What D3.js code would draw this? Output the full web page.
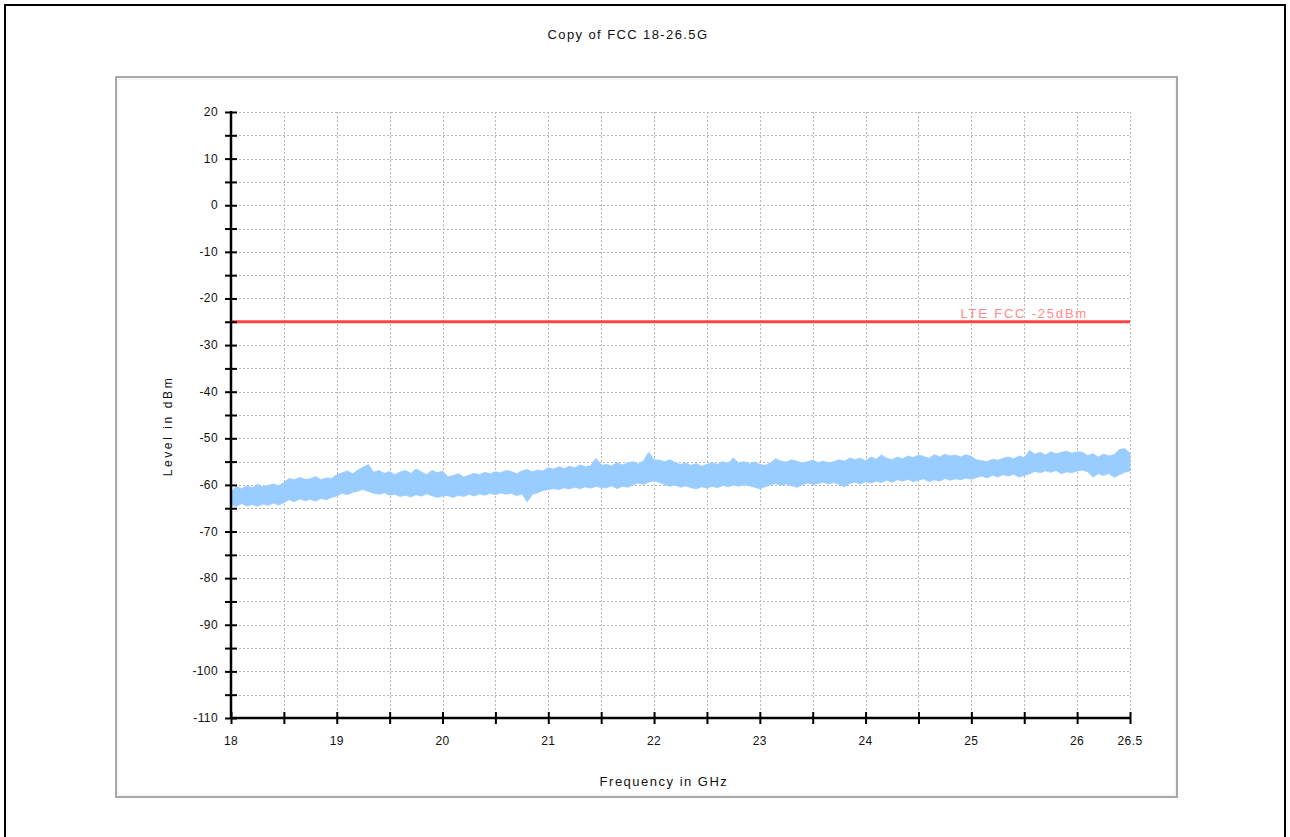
<!DOCTYPE html>
<html>
<head>
<meta charset="utf-8">
<script src="https://cdn.jsdelivr.net/npm/d3@7"></script>
<style>
  html, body { margin: 0; padding: 0; background: #fff; }
  svg { display: block; }
  text { font-family: "Liberation Sans", Arial, sans-serif; fill: #111; }
</style>
</head>
<body>
<svg id="chart" width="1290" height="837"></svg>
<script>
// ---- data ----
const chartTitle = "Copy of FCC 18-26.5G";
const xAxisTitle = "Frequency in GHz";
const yAxisTitle = "Level in dBm";
const limitLabel = "LTE FCC -25dBm";
const limitValue = -25;

const freqStart = 18.0;      // GHz, first bin
const freqStep = 0.05;       // GHz per bin
const xTickValues = [18, 18.5, 19, 19.5, 20, 20.5, 21, 21.5, 22, 22.5, 23, 23.5, 24, 24.5, 25, 25.5, 26, 26.5];
const xTickLabels = ["18", "", "19", "", "20", "", "21", "", "22", "", "23", "", "24", "", "25", "", "26", "26.5"];
const yTickValues = [20, 10, 0, -10, -20, -30, -40, -50, -60, -70, -80, -90, -100, -110];
const yMinorValues = [15, 5, -5, -15, -25, -35, -45, -55, -65, -75, -85, -95, -105];

// Trace envelope (max and min level per 0.05 GHz bin), dBm
const traceMax = [
  -61.5, -60.3, -60.8, -60.2, -60.6, -59.9, -60.4, -60.1, -59.8, -60.2, -59.5,
  -58.6, -58.9, -58.4, -58.8, -58.7, -58.2, -58.9, -58.5, -58.6, -57.8,
  -57.4, -57.0, -57.6, -56.8, -56.2, -55.6, -57.3, -56.9, -57.5, -57.1,
  -57.8, -57.2, -56.9, -57.5, -56.6, -57.2, -57.8, -56.9, -57.4, -57.0,
  -58.2, -58.0, -57.6, -58.3, -57.9, -57.5, -57.8, -57.3, -57.6, -57.2,
  -57.4, -56.9, -57.1, -57.6, -57.0, -56.7, -57.2, -56.8, -57.0, -56.3,
  -56.6, -56.1, -56.5, -56.0, -56.3, -55.7, -56.1, -55.9, -54.3, -55.8,
  -55.6, -55.9, -55.2, -55.7, -55.3, -55.0, -55.5, -54.8, -53.0, -54.6,
  -54.7, -55.0, -54.6, -55.2, -55.6, -55.3, -55.8, -55.4, -56.0, -55.6,
  -55.2, -55.6, -55.0, -55.4, -54.2, -55.3, -55.0, -55.5, -55.1, -55.6,
  -55.8, -55.3, -54.4, -54.9, -55.1, -54.6, -54.9, -55.3, -55.0, -54.7,
  -55.2, -54.9, -55.3, -55.0, -54.6, -54.9, -54.2, -54.6, -54.3, -54.8,
  -54.0, -54.5, -53.6, -54.3, -54.6, -54.0, -54.4, -53.8, -54.1, -53.6,
  -53.9, -54.3, -53.5, -54.0, -53.4, -53.8, -53.6, -54.0, -53.5, -53.9,
  -54.6, -54.8, -55.0, -54.5, -54.7, -54.3, -54.0, -54.4, -53.8, -54.1,
  -52.6, -53.4, -53.0, -53.6, -52.9, -53.3, -53.0, -52.8, -53.2, -52.9,
  -53.0, -53.7, -53.3, -54.0, -53.4, -53.8, -53.5, -52.4, -52.2, -53.2
];
const traceMin = [
  -64.3, -64.6, -64.0, -64.5, -64.2, -64.6, -64.1, -64.4, -63.9, -64.3, -63.8,
  -63.2, -63.6, -63.0, -63.4, -63.1, -63.5, -62.9, -63.2, -62.7, -62.4,
  -61.8, -62.1, -61.6, -61.3, -61.0, -61.4, -61.8, -62.0, -61.7, -62.2,
  -62.0, -62.5, -62.2, -62.6, -62.1, -62.4, -61.9, -62.3, -62.7, -62.4,
  -62.3, -62.7, -62.2, -62.5, -62.0, -62.4, -61.9, -62.2, -61.8, -62.1,
  -61.7, -62.0, -61.8, -62.3, -61.9, -63.6, -62.0, -61.7, -61.2, -61.0,
  -60.8, -61.0, -60.6, -60.9, -60.5, -60.8, -60.4, -60.7, -60.3, -60.6,
  -60.6, -60.2, -60.8, -60.3, -60.5, -60.0, -59.6, -59.9, -59.4, -59.1,
  -59.5, -59.9, -60.3, -60.0, -60.5, -60.2, -60.6, -60.8, -60.4, -60.7,
  -60.3, -60.6, -60.1, -60.4, -60.0, -60.3, -59.9, -60.2, -60.5, -60.8,
  -60.4, -60.0, -59.7, -60.1, -59.8, -60.2, -60.5, -60.0, -59.6, -59.9,
  -59.7, -59.4, -59.8, -59.5, -59.9, -60.4, -59.7, -59.4, -59.8, -59.3,
  -59.6, -59.2, -59.5, -59.0, -59.4, -58.9, -59.2, -58.8, -59.3, -59.0,
  -58.7, -59.3, -58.9, -59.2, -58.6, -59.0, -58.7, -58.9, -58.5, -58.8,
  -58.4, -58.1, -58.5, -57.9, -58.3, -57.8, -58.1, -57.7, -58.3, -58.0,
  -57.6, -57.1, -57.4, -57.0, -57.3, -56.9, -57.6, -57.2, -57.4, -57.0,
  -56.8, -57.2, -58.3, -57.6, -58.0, -57.5, -58.4, -57.8, -57.3, -57.0
];

// ---- drawing ----
const svg = d3.select("#chart");
const plot = { left: 231, right: 1130, top: 112, bottom: 718 };

const x = d3.scaleLinear().domain([18, 26.5]).range([plot.left, plot.right]);
const y = d3.scaleLinear().domain([-110, 20]).range([plot.bottom, plot.top]);

// outer border
svg.append("rect").attr("x", 5).attr("y", 5).attr("width", 1280).attr("height", 834)
  .attr("fill", "none").attr("stroke", "#000").attr("stroke-width", 2);

// inner panel
svg.append("rect").attr("x", 116).attr("y", 77).attr("width", 1061).attr("height", 720)
  .attr("fill", "#fff").attr("stroke", "#a8a8a8").attr("stroke-width", 2);
svg.append("rect").attr("x", 118).attr("y", 79).attr("width", 1057).attr("height", 716)
  .attr("fill", "none").attr("stroke", "#ededed").attr("stroke-width", 1);

// title
svg.append("text").attr("x", 628).attr("y", 39).attr("text-anchor", "middle")
  .style("font-size", "13px").style("letter-spacing", "1.4px").text(chartTitle);

// gridlines
const grid = svg.append("g").attr("stroke", "#b8b8b8").attr("stroke-width", 1)
  .attr("stroke-dasharray", "2,2");
[...yTickValues, ...yMinorValues].filter(v => v > -110).forEach(v => {
  grid.append("line").attr("x1", plot.left).attr("x2", plot.right)
    .attr("y1", Math.round(y(v)) + 0.5).attr("y2", Math.round(y(v)) + 0.5);
});
xTickValues.filter(v => v > 18).forEach(v => {
  grid.append("line").attr("y1", plot.top).attr("y2", plot.bottom)
    .attr("x1", Math.round(x(v)) + 0.5).attr("x2", Math.round(x(v)) + 0.5);
});

// trace band
const bins = traceMax.map((hi, i) => ({ f: freqStart + i * freqStep, hi: hi, lo: traceMin[i] }));
const area = d3.area().curve(d3.curveLinear)
  .x(d => x(d.f)).y0(d => y(d.lo)).y1(d => y(d.hi));
svg.append("path").datum(bins).attr("d", area).attr("fill", "#99ccff").attr("stroke", "#99ccff")
  .attr("stroke-width", 0.8);

// limit line
svg.append("line").attr("x1", x(18)).attr("x2", x(26.5))
  .attr("y1", y(limitValue)).attr("y2", y(limitValue))
  .attr("stroke", "#ff4444").attr("stroke-width", 3);
svg.append("text").attr("x", 1088).attr("y", y(limitValue) - 4).attr("text-anchor", "end")
  .style("font-size", "13px").style("letter-spacing", "1.8px").style("fill", "#ff8a8a")
  .text(limitLabel);

// y axis
const yAxis = d3.axisLeft(y).tickValues([...yTickValues, ...yMinorValues])
  .tickSize(6).tickFormat(() => "");
const gy = svg.append("g").attr("transform", `translate(${plot.left},0)`).call(yAxis);
gy.select(".domain").remove();
gy.selectAll(".tick line").attr("x1", -6).attr("x2", 6).attr("stroke", "#000").attr("stroke-width", 2);
svg.append("line").attr("x1", plot.left).attr("x2", plot.left).attr("y1", plot.top - 1).attr("y2", plot.bottom + 1)
  .attr("stroke", "#000").attr("stroke-width", 2.5);
yTickValues.forEach(v => {
  svg.append("text").attr("x", 218).attr("y", y(v) + 4).attr("text-anchor", "end")
    .style("font-size", "12px").style("letter-spacing", "0.4px").text(String(v));
});

// x axis
const xAxis = d3.axisBottom(x).tickValues(xTickValues).tickSize(6).tickFormat(() => "");
const gx = svg.append("g").attr("transform", `translate(0,${plot.bottom})`).call(xAxis);
gx.select(".domain").remove();
gx.selectAll(".tick line").attr("y1", -6).attr("y2", 6).attr("stroke", "#000").attr("stroke-width", 2);
svg.append("line").attr("x1", plot.left - 1).attr("x2", plot.right).attr("y1", plot.bottom).attr("y2", plot.bottom)
  .attr("stroke", "#000").attr("stroke-width", 2.5);
xTickValues.forEach((v, i) => {
  if (!xTickLabels[i]) return;
  svg.append("text").attr("x", x(v)).attr("y", 745).attr("text-anchor", "middle")
    .style("font-size", "12px").style("letter-spacing", "0.4px").text(xTickLabels[i]);
});

// axis titles
svg.append("text").attr("x", 664).attr("y", 786).attr("text-anchor", "middle")
  .style("font-size", "13px").style("letter-spacing", "1.5px").text(xAxisTitle);
svg.append("text").attr("transform", "translate(172,426) rotate(-90)").attr("text-anchor", "middle")
  .style("font-size", "12px").style("letter-spacing", "2.6px").text(yAxisTitle);
</script>
</body>
</html>
